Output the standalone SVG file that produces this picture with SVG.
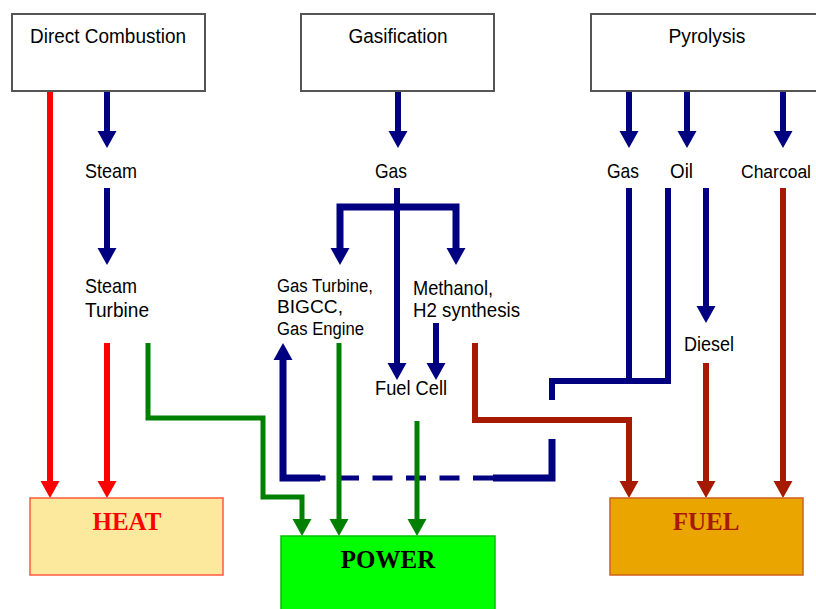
<svg xmlns="http://www.w3.org/2000/svg" width="816" height="609" viewBox="0 0 816 609">
<style>
.box{fill:#fff;stroke:#555;stroke-width:2}
.lbl{font-family:"Liberation Sans Narrow","Liberation Sans",Arial,sans-serif;fill:#000}
.big{font-family:"Liberation Serif","Times New Roman",serif;font-weight:bold;font-size:25px}
.c{fill:none;stroke-linejoin:miter;stroke-linecap:butt}
.nv{stroke:#000080;stroke-width:6}
.rd{stroke:#ff0000;stroke-width:6}
.dr{stroke:#a51a00;stroke-width:6}
.gr{stroke:#008000;stroke-width:5}
</style>
<defs>
<marker id="aN" markerUnits="userSpaceOnUse" viewBox="0 -10 18 20" refX="0" refY="0" markerWidth="18" markerHeight="20" orient="auto"><path d="M0,-9.5 L17,0 L0,9.5 z" fill="#000080"/></marker>
<marker id="aR" markerUnits="userSpaceOnUse" viewBox="0 -10 18 20" refX="0" refY="0" markerWidth="18" markerHeight="20" orient="auto"><path d="M0,-9.5 L17,0 L0,9.5 z" fill="#ff0000"/></marker>
<marker id="aD" markerUnits="userSpaceOnUse" viewBox="0 -10 18 20" refX="0" refY="0" markerWidth="18" markerHeight="20" orient="auto"><path d="M0,-9.5 L17,0 L0,9.5 z" fill="#a51a00"/></marker>
<marker id="aG" markerUnits="userSpaceOnUse" viewBox="0 -10 18 20" refX="0" refY="0" markerWidth="18" markerHeight="20" orient="auto"><path d="M0,-9.5 L17,0 L0,9.5 z" fill="#008000"/></marker>
</defs>
<rect width="816" height="609" fill="#fff"/>

<g id="connectors">
<path class="c rd" d="M50,91 V481" marker-end="url(#aR)"/>
<path class="c rd" d="M107,343 V481" marker-end="url(#aR)"/>
<path class="c nv" d="M107,91 V131" marker-end="url(#aN)"/>
<path class="c nv" d="M107,188 V248" marker-end="url(#aN)"/>
<path class="c nv" d="M398,91 V131" marker-end="url(#aN)"/>
<path class="c nv" d="M397,188 V363" marker-end="url(#aN)"/>
<path class="c nv" style="stroke-width:7" d="M398,207 H340 V248" marker-end="url(#aN)"/>
<path class="c nv" style="stroke-width:7" d="M398,207 H456 V248" marker-end="url(#aN)"/>
<path class="c nv" d="M436,323 V363" marker-end="url(#aN)"/>
<path class="c nv" d="M629,91 V131" marker-end="url(#aN)"/>
<path class="c nv" d="M687,91 V131" marker-end="url(#aN)"/>
<path class="c nv" d="M783,91 V131" marker-end="url(#aN)"/>
<path class="c nv" d="M629,188 V381"/>
<path class="c nv" d="M668,188 V381 H552 V400"/>
<path class="c nv" d="M706,188 V306" marker-end="url(#aN)"/>
<path class="c nv" style="stroke-width:7" d="M552,439 V478 H493"/>
<path class="c nv" style="stroke-width:5" stroke-dasharray="20 13.5" d="M493,478 H320"/>
<path class="c nv" style="stroke-width:7" d="M320,478 H283 V360" marker-end="url(#aN)"/>
<path class="c dr" d="M783,188 V481" marker-end="url(#aD)"/>
<path class="c dr" d="M706,363 V481" marker-end="url(#aD)"/>
<path class="c dr" d="M475,343 V420 H629 V481" marker-end="url(#aD)"/>
<path class="c gr" d="M148,343 V418 H263 V497 H302 V519" marker-end="url(#aG)"/>
<path class="c gr" d="M339,343 V519" marker-end="url(#aG)"/>
<path class="c gr" d="M417,421 V519" marker-end="url(#aG)"/>
</g>

<g id="direct-combustion"><rect class="box" x="12" y="14" width="193" height="77"/><text class="lbl" x="108" y="43" font-size="20" text-anchor="middle" textLength="156" lengthAdjust="spacingAndGlyphs">Direct Combustion</text></g>
<g id="gasification"><rect class="box" x="301" y="14" width="193" height="77"/><text class="lbl" x="398" y="43" font-size="20" text-anchor="middle" textLength="99" lengthAdjust="spacingAndGlyphs">Gasification</text></g>
<g id="pyrolysis"><rect class="box" x="591" y="14" width="240" height="77"/><text class="lbl" x="707" y="43" font-size="20" text-anchor="middle" textLength="77" lengthAdjust="spacingAndGlyphs">Pyrolysis</text></g>

<g id="steam"><text class="lbl" x="85" y="178" font-size="21" textLength="52" lengthAdjust="spacingAndGlyphs">Steam</text></g>
<g id="gas-gasif"><text class="lbl" x="375" y="178" font-size="21" textLength="32" lengthAdjust="spacingAndGlyphs">Gas</text></g>
<g id="gas-pyro"><text class="lbl" x="607" y="178" font-size="21" textLength="32" lengthAdjust="spacingAndGlyphs">Gas</text></g>
<g id="oil"><text class="lbl" x="670" y="178" font-size="21" textLength="23" lengthAdjust="spacingAndGlyphs">Oil</text></g>
<g id="charcoal"><text class="lbl" x="741" y="178" font-size="18" textLength="70" lengthAdjust="spacingAndGlyphs">Charcoal</text></g>
<g id="steam-turbine"><text class="lbl" font-size="21"><tspan x="85" y="293" textLength="52" lengthAdjust="spacingAndGlyphs">Steam</tspan><tspan x="85" y="317" textLength="64" lengthAdjust="spacingAndGlyphs">Turbine</tspan></text></g>
<g id="gas-turbine"><text class="lbl" font-size="18"><tspan x="277" y="292" textLength="96" lengthAdjust="spacingAndGlyphs">Gas Turbine,</tspan><tspan x="277" y="313" textLength="66" lengthAdjust="spacingAndGlyphs">BIGCC,</tspan><tspan x="277" y="335" textLength="87" lengthAdjust="spacingAndGlyphs">Gas Engine</tspan></text></g>
<g id="methanol"><text class="lbl" font-size="21"><tspan x="413" y="295" textLength="80" lengthAdjust="spacingAndGlyphs">Methanol,</tspan><tspan x="413" y="317" textLength="107" lengthAdjust="spacingAndGlyphs">H2 synthesis</tspan></text></g>
<g id="fuel-cell"><text class="lbl" x="375" y="395" font-size="20" textLength="72" lengthAdjust="spacingAndGlyphs">Fuel Cell</text></g>
<g id="diesel"><text class="lbl" x="684" y="351" font-size="20" textLength="50" lengthAdjust="spacingAndGlyphs">Diesel</text></g>

<g id="heat"><rect x="30" y="498" width="193" height="77" fill="#fde99e" stroke="#ff5a3c" stroke-width="1.5"/><text class="big" x="127" y="530" text-anchor="middle" fill="#ff0000">HEAT</text></g>
<g id="power"><rect x="281" y="536" width="214" height="80" fill="#00ff00" stroke="#00c000" stroke-width="1.5"/><text class="big" x="388" y="568" text-anchor="middle" fill="#000">POWER</text></g>
<g id="fuel"><rect x="610" y="498" width="193" height="77" fill="#eba500" stroke="#d0601a" stroke-width="1.5"/><text class="big" x="706" y="530" text-anchor="middle" fill="#a51a00">FUEL</text></g>
</svg>
